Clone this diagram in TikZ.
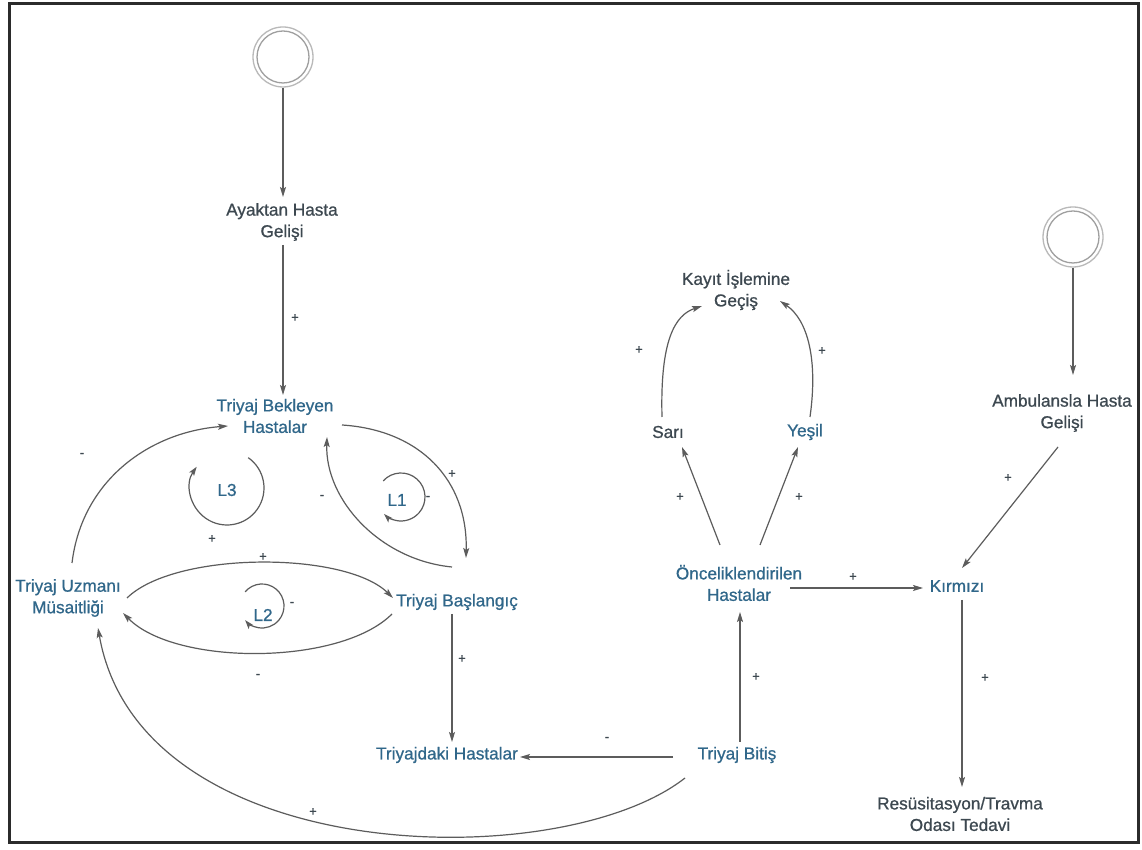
\documentclass[tikz,border=0pt]{standalone}
\usepackage{fontspec}
\setmainfont{Liberation Sans}
\newfontfamily\labelfont{Liberation Sans}[RawFeature={embolden=0.8}]
\usetikzlibrary{arrows.meta}
\definecolor{ink}{HTML}{3D4850}
\definecolor{inkblue}{HTML}{30678A}
\definecolor{wire}{HTML}{5C5C5C}
\definecolor{framecol}{HTML}{2B2B2B}
\tikzset{
  var/.style={inner sep=0pt, align=center, font=\labelfont\fontsize{17.2}{21.5}\selectfont, text=ink},
  varb/.style={var, text=inkblue},
  arr/.style={draw=wire, line width=1.2pt, -{Stealth[length=10pt,width=6pt,inset=2pt]}},
  loopArc/.style={draw=wire, line width=1.2pt, -{Stealth[length=9pt,width=6pt,inset=2pt]}},
  pol/.style={font=\labelfont\fontsize{13}{13}\selectfont, text=ink, inner sep=0pt},
  src/.style={circle, draw=gray!55, line width=1.3pt, minimum size=60pt, inner sep=0pt},
  srcin/.style={draw=gray!75, line width=1.3pt},
}
\begin{document}
\begin{tikzpicture}[x=1pt,y=1pt]
\useasboundingbox (0,0) rectangle (1142,850);
\fill[white] (0,0) rectangle (1142,850);
\draw[framecol, line width=3pt] (9,7) rectangle (1138,846);

% sources
\node[src] (start1) at (283,793) {};
\draw[srcin] (start1.center) circle (26);
\node[src] (start2) at (1073,613) {};
\draw[srcin] (start2.center) circle (26);

% variables
\node[var]  (ayak) at (282,628) {Ayaktan Hasta\\Gelişi};
\node[varb] (bek)  at (275,434) {Triyaj Bekleyen\\Hastalar};
\node[varb] (uzm)  at (68,252)  {Triyaj Uzmanı\\Müsaitliği};
\node[varb] (bas)  at (457,248) {Triyaj Başlangıç};
\node[varb] (tdh)  at (447,95)  {Triyajdaki Hastalar};
\node[varb] (bit)  at (737,95)  {Triyaj Bitiş};
\node[varb] (onc)  at (739,267) {Önceliklendirilen\\Hastalar};
\node[varb] (kir)  at (957,264) {Kırmızı};
\node[var]  (amb)  at (1062,437) {Ambulansla Hasta\\Gelişi};
\node[var]  (res)  at (960,36)  {Resüsitasyon/Travma\\Odası Tedavi};
\node[var]  (kay)  at (736,560) {Kayıt İşlemine\\Geçiş};
\node[var]  (sar)  at (668,418) {Sarı};
\node[varb] (yes)  at (805,418) {Yeşil};

% loop markers
\node[varb] (l3) at (227,360) {L3};
\node[varb] (l1) at (397,350) {L1};
\node[varb] (l2) at (263,235) {L2};
\draw[loopArc] ([shift={(55:37)}]l3.center) ++(0,2) arc[start angle=55, end angle=-215, radius=37];
\draw[loopArc] ([shift={(138:24)}]l1.center) ++(4,3) arc[start angle=138, end angle=-135, radius=24];
\draw[loopArc] ([shift={(140:22)}]l2.center) ++(-1,9) arc[start angle=140, end angle=-140, radius=22];
\node[pol] at (212,311) {+};
\node[pol] at (428,352) {-};
\node[pol] at (292,246) {-};

% left cluster
\draw[arr] (start1.south) -- ([shift={(1,25)}]ayak.center);
\draw[arr] ([shift={(1,-23)}]ayak.center) -- ([shift={(8,21)}]bek.center);
\node[pol] at (295,532) {+};

\draw[arr] ([shift={(4,35)}]uzm.center) .. controls (82,370) and (150,418) .. ([shift={(-47,-10)}]bek.center);
\node[pol] at (82,395) {-};

\draw[arr] ([shift={(59,0)}]uzm.center) .. controls (175,299) and (345,299) .. ([shift={(-64,4)}]bas.center);
\node[pol] at (263,293) {+};
\draw[arr] ([shift={(-65,-12)}]bas.center) .. controls (340,184) and (175,184) .. ([shift={(55,-15)}]uzm.center);
\node[pol] at (258,174) {-};

\draw[arr] ([shift={(67,-9)}]bek.center) .. controls (420,420) and (468,370) .. ([shift={(9,44)}]bas.center);
\node[pol] at (452,376) {+};
\draw[arr] ([shift={(-5,35)}]bas.center) .. controls (380,290) and (325,350) .. ([shift={(52,-21)}]bek.center);
\node[pol] at (322,353) {-};

\draw[arr] ([shift={(-5,-12)}]bas.center) -- ([shift={(5,13)}]tdh.center);
\node[pol] at (462,191) {+};

\draw[arr] ([shift={(-64,-2)}]bit.center) -- ([shift={(73,-2)}]tdh.center);
\node[pol] at (607,111) {-};

\draw[arr] ([shift={(-52,-23)}]bit.center) .. controls (560,-26) and (140,-18) .. ([shift={(30,-30)}]uzm.center);
\node[pol] at (313,38) {+};

% right cluster
\draw[arr] ([shift={(3,13)}]bit.center) -- ([shift={(1,-29)}]onc.center);
\node[pol] at (756,173) {+};

\draw[arr] ([shift={(51,-5)}]onc.center) -- ([shift={(-34,-2)}]kir.center);
\node[pol] at (853,273) {+};

\draw[arr] (start2.south) -- ([shift={(11,38)}]amb.center);
\draw[arr] ([shift={(-4,-34)}]amb.center) -- ([shift={(5,18)}]kir.center);
\node[pol] at (1008,372) {+};

\draw[arr] ([shift={(5,-14)}]kir.center) -- ([shift={(2,27)}]res.center);
\node[pol] at (985,172) {+};

\draw[arr] ([shift={(-19,38)}]onc.center) -- ([shift={(14,-15)}]sar.center);
\node[pol] at (680,353) {+};
\draw[arr] ([shift={(21,38)}]onc.center) -- ([shift={(-7,-15)}]yes.center);
\node[pol] at (799,353) {+};

\draw[arr] ([shift={(-6,15)}]sar.center) .. controls (660,510) and (675,535) .. ([shift={(-34,-16)}]kay.center);
\node[pol] at (639,500) {+};
\draw[arr] ([shift={(5,15)}]yes.center) .. controls (818,490) and (808,530) .. ([shift={(44,-11)}]kay.center);
\node[pol] at (822,499) {+};
\end{tikzpicture}
\end{document}
